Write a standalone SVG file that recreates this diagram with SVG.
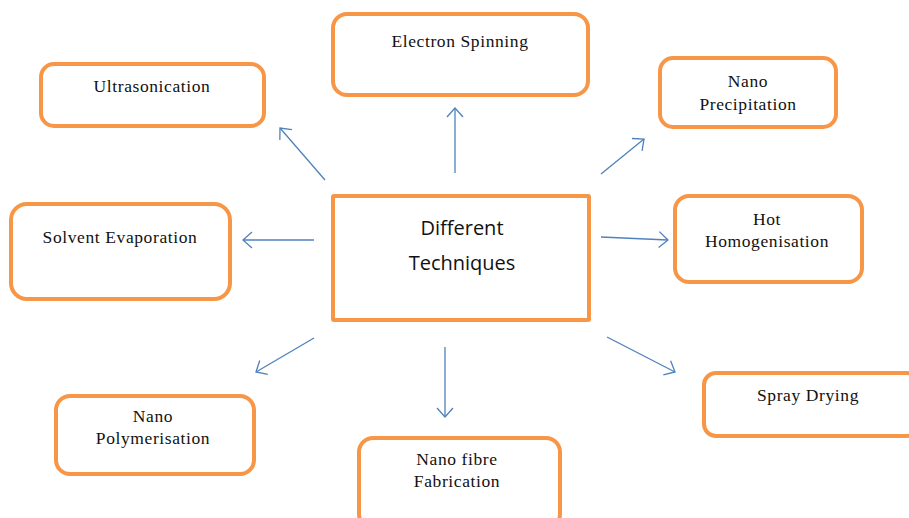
<svg xmlns="http://www.w3.org/2000/svg" width="909" height="518" viewBox="0 0 909 518">
<style>
.box{fill:#fff;stroke:#F79646;stroke-width:4}
.t{font-family:"Liberation Serif","Times New Roman",serif;font-size:17.5px;letter-spacing:0.6px;fill:#111;text-anchor:middle}
.c{font-family:"Open Sans","Liberation Sans",sans-serif;font-size:20px;fill:#111;text-anchor:middle}
.a{stroke:#4F81BD;stroke-width:1.3;fill:none;marker-end:url(#ah)}
</style>
<defs>
<marker id="ah" markerUnits="userSpaceOnUse" markerWidth="24" markerHeight="24" refX="12" refY="12" orient="auto" viewBox="0 0 24 24">
<path d="M3,4 L12,12 L3,20" fill="none" stroke="#4F81BD" stroke-width="1.3"/>
</marker>
</defs>
<rect width="909" height="518" fill="#fff"/>
<g id="connectors">
<line class="a" x1="455" y1="173" x2="455" y2="108"/>
<line class="a" x1="325" y1="180" x2="280" y2="128"/>
<line class="a" x1="601" y1="174" x2="644" y2="139"/>
<line class="a" x1="601" y1="237" x2="668" y2="240"/>
<line class="a" x1="314" y1="240" x2="243" y2="240"/>
<line class="a" x1="314" y1="338" x2="256" y2="372"/>
<line class="a" x1="445" y1="347" x2="445" y2="417"/>
<line class="a" x1="607" y1="337" x2="675" y2="372"/>
</g>
<g id="center">
<rect class="box" x="333" y="196" width="256" height="124" rx="1"/>
<text class="c" x="462" y="235">Different</text>
<text class="c" x="462" y="270">Techniques</text>
</g>
<g id="electron-spinning">
<rect class="box" x="333" y="14" width="255" height="81" rx="14"/>
<text class="t" x="460" y="47">Electron Spinning</text>
</g>
<g id="ultrasonication">
<rect class="box" x="41" y="64" width="223" height="62" rx="13"/>
<text class="t" x="152" y="92">Ultrasonication</text>
</g>
<g id="nano-precipitation">
<rect class="box" x="660" y="58" width="176" height="69" rx="13"/>
<text class="t" x="748" y="87">Nano</text>
<text class="t" x="748" y="110">Precipitation</text>
</g>
<g id="hot-homogenisation">
<rect class="box" x="675" y="196" width="187" height="86" rx="14"/>
<text class="t" x="767" y="225">Hot</text>
<text class="t" x="767" y="247">Homogenisation</text>
</g>
<g id="solvent-evaporation">
<rect class="box" x="11" y="204" width="219" height="95" rx="16"/>
<text class="t" x="120" y="243">Solvent Evaporation</text>
</g>
<g id="nano-polymerisation">
<rect class="box" x="56" y="396" width="198" height="78" rx="14"/>
<text class="t" x="153" y="422">Nano</text>
<text class="t" x="153" y="444">Polymerisation</text>
</g>
<g id="nano-fibre-fabrication">
<rect class="box" x="359" y="438" width="201" height="90" rx="14"/>
<text class="t" x="457" y="465">Nano fibre</text>
<text class="t" x="457" y="487">Fabrication</text>
</g>
<g id="spray-drying">
<rect class="box" x="704" y="373" width="215" height="63" rx="12"/>
<text class="t" x="808" y="401">Spray Drying</text>
</g>
</svg>
